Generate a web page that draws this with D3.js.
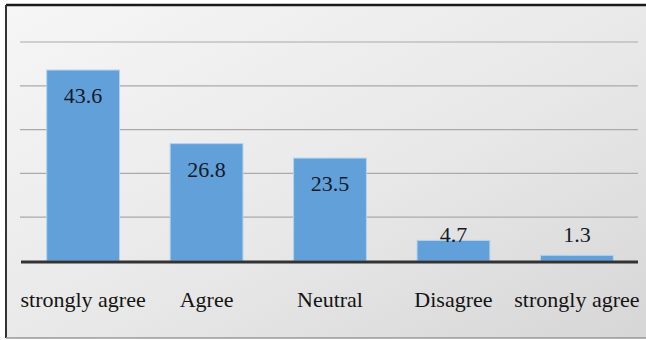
<!DOCTYPE html>
<html>
<head>
<meta charset="utf-8">
<script src="https://cdn.jsdelivr.net/npm/d3@7"></script>
<style>
  body { margin: 0; background: #fff; }
  svg { display: block; }
  .lbl { font-family: "Times New Roman", Times, "Liberation Serif", serif; }
</style>
</head>
<body>
<svg id="chart" width="646" height="340"></svg>
<script>
const categories = ["strongly agree", "Agree", "Neutral", "Disagree", "strongly agree "];
const values = [43.6, 26.8, 23.5, 4.7, 1.3];
const gridTicks = [10, 20, 30, 40, 50];

const svg = d3.select("#chart");
const W = 646, H = 340;
const margin = { top: 42, right: 8, bottom: 79, left: 22 };

// background with soft gradient + frame
const defs = svg.append("defs");
const grad = defs.append("linearGradient")
  .attr("id", "bg").attr("x1", "0").attr("y1", "0").attr("x2", "1").attr("y2", "1");
grad.append("stop").attr("offset", "0%").attr("stop-color", "#f6f6f6");
grad.append("stop").attr("offset", "55%").attr("stop-color", "#e8e8e8");
grad.append("stop").attr("offset", "100%").attr("stop-color", "#d6d6d6");

svg.append("rect").attr("width", W).attr("height", H).attr("fill", "#fff");
svg.append("rect")
  .attr("x", 6).attr("y", 5).attr("width", W).attr("height", 333)
  .attr("fill", "url(#bg)");
svg.append("line").attr("x1", 6).attr("x2", W).attr("y1", 5).attr("y2", 5)
  .attr("stroke", "#1a1a1a").attr("stroke-width", 2.5);
svg.append("line").attr("x1", 6).attr("x2", 6).attr("y1", 5).attr("y2", 338)
  .attr("stroke", "#333").attr("stroke-width", 2);
svg.append("line").attr("x1", 6).attr("x2", W).attr("y1", 338).attr("y2", 338)
  .attr("stroke", "#999").attr("stroke-width", 1.5);

const x = d3.scaleBand()
  .domain(categories)
  .range([margin.left, W - margin.right])
  .paddingInner(0.41)
  .paddingOuter(0.2);

const y = d3.scaleLinear()
  .domain([0, 50])
  .range([H - margin.bottom, margin.top]);

// gridlines
svg.append("g")
  .selectAll("line")
  .data(gridTicks)
  .join("line")
  .attr("x1", 20).attr("x2", 638)
  .attr("y1", d => y(d)).attr("y2", d => y(d))
  .attr("stroke", "#aaaaaa").attr("stroke-width", 1.2);

// bars
svg.append("g")
  .selectAll("rect")
  .data(values)
  .join("rect")
  .attr("x", (d, i) => x(categories[i]))
  .attr("y", d => y(d))
  .attr("width", x.bandwidth())
  .attr("height", d => y(0) - y(d))
  .attr("fill", "#62a0da")
  .attr("stroke", "#b5d3f0")
  .attr("stroke-width", 1);

// axis line
svg.append("line")
  .attr("x1", 21).attr("x2", 638)
  .attr("y1", y(0) + 1).attr("y2", y(0) + 1)
  .attr("stroke", "#333").attr("stroke-width", 3);

// value labels
svg.append("g")
  .selectAll("text")
  .data(values)
  .join("text")
  .attr("class", "lbl")
  .attr("x", (d, i) => x(categories[i]) + x.bandwidth() / 2)
  .attr("y", d => Math.min(y(d) + 33, y(0) - 19))
  .attr("text-anchor", "middle")
  .attr("font-size", "22px")
  .attr("fill", "#141a28")
  .text(d => d);

// category labels
svg.append("g")
  .selectAll("text")
  .data(categories)
  .join("text")
  .attr("class", "lbl")
  .attr("x", d => x(d) + x.bandwidth() / 2)
  .attr("y", 307)
  .attr("text-anchor", "middle")
  .attr("font-size", "22px")
  .attr("fill", "#141414")
  .text(d => d.trim());
</script>
</body>
</html>
